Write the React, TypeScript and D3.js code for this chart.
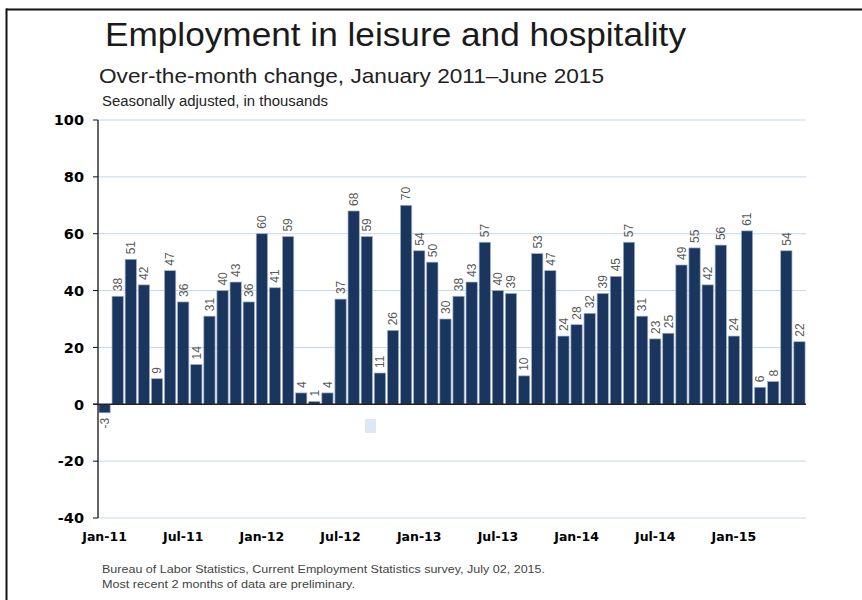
import React from "react";
import * as d3 from "d3";

const months: string[] = [];
const startYear = 2011;
for (let i = 0; i < 54; i++) {
  const m = ["Jan","Feb","Mar","Apr","May","Jun","Jul","Aug","Sep","Oct","Nov","Dec"][i % 12];
  months.push(`${m}-${String(startYear + Math.floor(i / 12)).slice(2)}`);
}

const values: number[] = [
  -3, 38, 51, 42, 9, 47, 36, 14, 31, 40, 43, 36,
  60, 41, 59, 4, 1, 4, 37, 68, 59, 11, 26, 70,
  54, 50, 30, 38, 43, 57, 40, 39, 10, 53, 47, 24,
  28, 32, 39, 45, 57, 31, 23, 25, 49, 55, 42, 56,
  24, 61, 6, 8, 54, 22,
];

const yTicks: number[] = [-40, -20, 0, 20, 40, 60, 80, 100];
const xTickLabels: string[] = ["Jan-11", "Jul-11", "Jan-12", "Jul-12", "Jan-13", "Jul-13", "Jan-14", "Jul-14", "Jan-15"];

const title = "Employment in leisure and hospitality";
const subtitle = "Over-the-month change, January 2011\u2013June 2015";
const subsub = "Seasonally adjusted, in thousands";
const foot1 = "Bureau of Labor Statistics, Current Employment Statistics survey, July 02, 2015.";
const foot2 = "Most recent 2 months of data are preliminary.";

export default function App() {
  const W = 862, H = 600;
  const left = 98, right = 806, top = 120, bottom = 518;
  const x = d3.scaleBand<string>().domain(months).range([left, right]).paddingInner(0.14).paddingOuter(0.07);
  const y = d3.scaleLinear().domain([-40, 100]).range([bottom, top]);
  const bw = x.bandwidth();
  const thin = "'Liberation Sans Narrow', 'Liberation Sans', Arial, sans-serif";
  const bold = "'DejaVu Sans', Verdana, sans-serif";

  return (
    <svg width={W} height={H} style={{ position: "absolute", left: 0, top: 0, background: "#fff" }}>
      <rect x={0} y={0} width={W} height={H} fill="#fff" />
      {/* frame */}
      <line x1={6} x2={W} y1={9.5} y2={9.5} stroke="#111" strokeWidth={2} />
      <line x1={6.5} x2={6.5} y1={8.5} y2={H} stroke="#111" strokeWidth={2} />

      <text x={105} y={46} fontFamily={thin} fontSize={34} fill="#1a1a1a" textLength={581} lengthAdjust="spacingAndGlyphs">{title}</text>
      <text x={99} y={83} fontFamily={thin} fontSize={21} fill="#222" textLength={505} lengthAdjust="spacingAndGlyphs">{subtitle}</text>
      <text x={102} y={106} fontFamily={thin} fontSize={14} fill="#222" textLength={226} lengthAdjust="spacingAndGlyphs">{subsub}</text>

      {/* gridlines */}
      {yTicks.filter((t) => t !== 0).map((t) => (
        <line key={"g" + t} x1={left} x2={right} y1={y(t)} y2={y(t)} stroke="#c6d7ee" strokeWidth={1} />
      ))}
      {/* ticks */}
      {yTicks.map((t) => (
        <g key={"t" + t}>
          <line x1={left - 5} x2={left} y1={y(t)} y2={y(t)} stroke="#111" strokeWidth={1} />
          <text x={84} y={y(t)} dy="0.36em" textAnchor="end" fontFamily={bold} fontWeight="bold" fontSize={14.5} fill="#000">{t}</text>
        </g>
      ))}

      {/* bars */}
      {values.map((v, i) => {
        const bx = x(months[i])!;
        const y0 = y(0), y1 = y(v);
        return (
          <rect key={"b" + i} x={bx} y={Math.min(y0, y1)} width={bw} height={Math.abs(y1 - y0)}
            fill="#1a365f" stroke="#9fb0c8" strokeWidth={0.7} />
        );
      })}

      {/* value labels */}
      {values.map((v, i) => {
        const cx = x(months[i])! + bw / 2;
        const ly = v >= 0 ? y(v) - 5 : y(v) + 5;
        return (
          <text key={"l" + i} transform={`translate(${cx},${ly}) rotate(-90)`} dy="0.36em"
            textAnchor={v >= 0 ? "start" : "end"} fontFamily="'Liberation Sans', Arial, sans-serif" fontSize={12} fill="#5a5a5a">{v}</text>
        );
      })}

      {/* axes */}
      <line x1={left} x2={left} y1={top} y2={bottom} stroke="#111" strokeWidth={1.3} />
      <line x1={left - 5} x2={right} y1={y(0)} y2={y(0)} stroke="#222" strokeWidth={1.5} />

      {/* small marker */}
      <rect x={365} y={419} width={11} height={14} fill="#dce8f5" />

      {/* x labels */}
      {xTickLabels.map((lab) => (
        <text key={"x" + lab} x={x(lab)! + bw / 2} y={541} textAnchor="middle" fontFamily={bold} fontWeight="bold" fontSize={12.5} fill="#000">{lab}</text>
      ))}

      <text x={102} y={573} fontFamily={thin} fontSize={11} fill="#444" textLength={443} lengthAdjust="spacingAndGlyphs">{foot1}</text>
      <text x={102} y={588} fontFamily={thin} fontSize={11} fill="#444" textLength={253} lengthAdjust="spacingAndGlyphs">{foot2}</text>
    </svg>
  );
}
